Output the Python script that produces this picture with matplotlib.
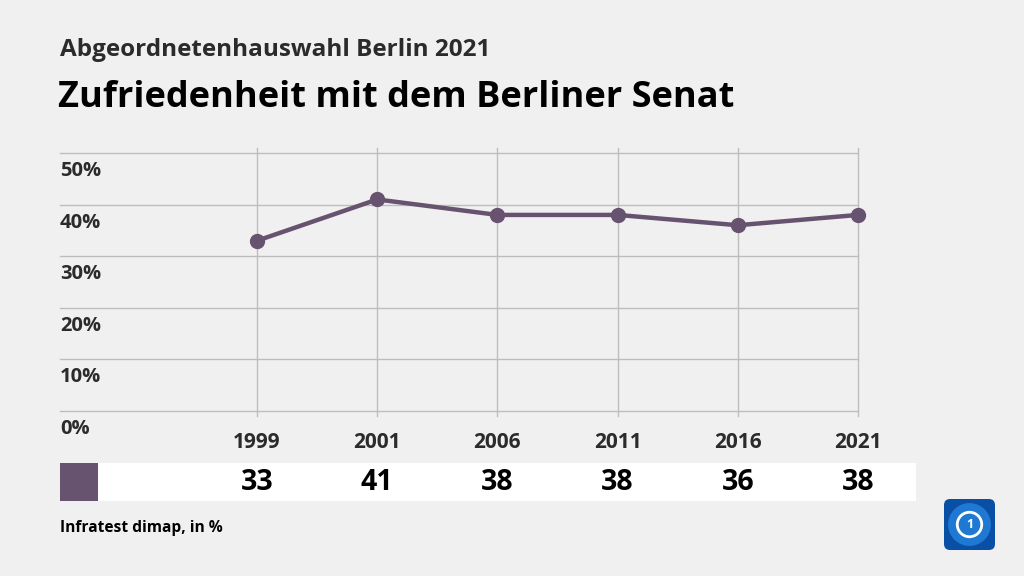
import matplotlib
matplotlib.use("Agg")
import matplotlib.pyplot as plt
from matplotlib.patches import Rectangle, FancyBboxPatch, Circle
import matplotlib.transforms as mtransforms

plt.rcParams['font.family'] = ['Open Sans', 'DejaVu Sans']

years = ["1999", "2001", "2006", "2011", "2016", "2021"]
values = [33, 41, 38, 38, 36, 38]
yticks = [0, 10, 20, 30, 40, 50]
ytick_labels = ["0%", "10%", "20%", "30%", "40%", "50%"]

title_small = "Abgeordnetenhauswahl Berlin 2021"
title_big = "Zufriedenheit mit dem Berliner Senat"
source = "Infratest dimap, in %"

BG = "#f0f0f0"
LINE = "#67536f"
GRID = "#bdbdbd"
TXT = "#2b2b2b"

W, H = 1024, 576
fig = plt.figure(figsize=(W / 100, H / 100), dpi=100, facecolor=BG)

# background elements (table band, legend square) drawn first
fig.patches.append(Rectangle((98 / W, 1 - 501 / H), (916 - 98) / W, 38 / H,
                             transform=fig.transFigure, facecolor="white",
                             edgecolor="none", zorder=0))
fig.patches.append(Rectangle((60 / W, 1 - 501 / H), 38 / W, 38 / H,
                             transform=fig.transFigure, facecolor=LINE,
                             edgecolor="none", zorder=0))

# axes spanning pixel x 60..858, y 153..411
left_px, right_px, top_px, bot_px = 60, 858, 153, 411
ax = fig.add_axes([left_px / W, 1 - bot_px / H, (right_px - left_px) / W, (bot_px - top_px) / H])
ax.set_zorder(2)
ax.patch.set_alpha(0)
for s in ax.spines.values():
    s.set_visible(False)

n = len(years)
xs = list(range(n))
x0_px = 257
step_px = (858 - 257) / (n - 1)
xmin = -(x0_px - left_px) / step_px
ax.set_xlim(xmin, n - 1)
ax.set_ylim(0, 50)
ax.set_xticks([])
ax.set_yticks([])

for yv in yticks:
    ax.axhline(yv, color=GRID, lw=1.0, zorder=1, clip_on=False)
for xv in xs:
    ax.plot([xv, xv], [-1, 51], color=GRID, lw=1.0, zorder=1, clip_on=False)

ax.plot(xs, values, color=LINE, lw=3.2, marker="o", markersize=10, zorder=3,
        solid_joinstyle="round", clip_on=False)

# y labels below gridlines
for yv, lab in zip(yticks, ytick_labels):
    tr = mtransforms.blended_transform_factory(ax.transAxes, ax.transData) + \
        mtransforms.ScaledTranslation(0, -18 / 100, fig.dpi_scale_trans)
    ax.text(0, yv, lab, transform=tr, ha="left", va="center", fontsize=14.5,
            fontweight="bold", color=TXT)

# x labels
for xv, lab in zip(xs, years):
    tr = mtransforms.blended_transform_factory(ax.transData, ax.transAxes) + \
        mtransforms.ScaledTranslation(0, -31 / 100, fig.dpi_scale_trans)
    ax.text(xv, 0, lab, transform=tr, ha="center", va="center", fontsize=15,
            fontweight="bold", color=TXT)

# table numbers
for xv, v in zip(xs, values):
    tr = mtransforms.blended_transform_factory(ax.transData, fig.transFigure)
    ax.text(xv, 1 - 483 / H, str(v), transform=tr, ha="center", va="center",
            fontsize=20.5, fontweight="bold", color="black", clip_on=False, zorder=5)

# titles
fig.text(60 / W, 1 - 50 / H, title_small, ha="left", va="center", fontsize=17.5,
         fontweight="bold", color=TXT)
fig.text(58 / W, 1 - 98 / H, title_big, ha="left", va="center", fontsize=26,
         fontweight="bold", color="black")
fig.text(60 / W, 1 - 528 / H, source, ha="left", va="center", fontsize=11.2,
         fontweight="bold", color="black")

# logo
lax = fig.add_axes([944 / W, 1 - 550 / H, 51 / W, 51 / H])
lax.set_zorder(6)
lax.set_xlim(0, 1); lax.set_ylim(0, 1); lax.axis("off")
lax.add_patch(FancyBboxPatch((0, 0), 1, 1, boxstyle="round,pad=0,rounding_size=0.12",
                             facecolor="#0a4fa6", edgecolor="none"))
lax.add_patch(Circle((0.5, 0.5), 0.42, facecolor="#1f78d1", edgecolor="none"))
lax.add_patch(Circle((0.5, 0.5), 0.24, facecolor="#1f78d1", edgecolor="white", lw=2))
lax.text(0.5, 0.5, "1", ha="center", va="center", color="white", fontsize=9,
         fontweight="bold")

fig.savefig("out.png", dpi=100, facecolor=BG)
